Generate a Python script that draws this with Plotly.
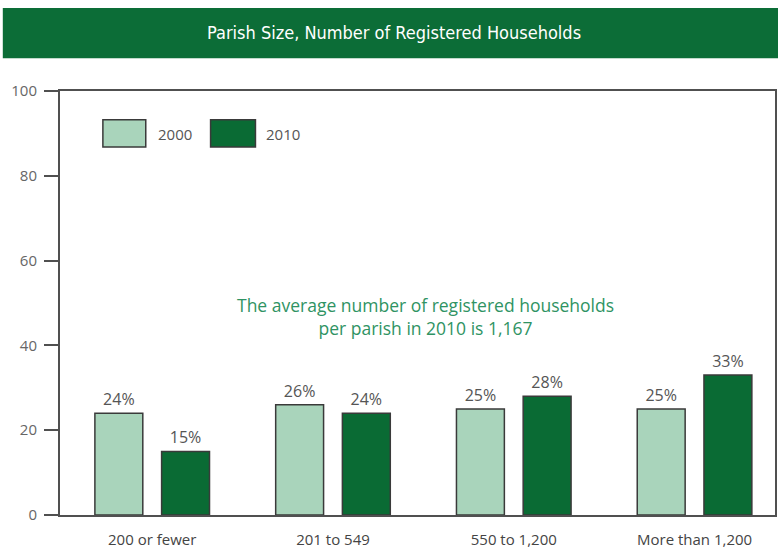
import plotly.graph_objects as go

categories = ["200 or fewer", "201 to 549", "550 to 1,200", "More than 1,200"]
series_names = ["2000", "2010"]
values_2000 = [24, 26, 25, 25]
values_2010 = [15, 24, 28, 33]
y_ticks = [0, 20, 40, 60, 80, 100]

light = "#a9d4bb"
dark = "#0a6b34"
outline = "#3a3a3a"
axis_col = "#505050"
txt_col = "#555555"

fig = go.Figure()
for name, vals, col, off in [(series_names[0], values_2000, light, -0.317),
                             (series_names[1], values_2010, dark, 0.052)]:
    fig.add_trace(go.Bar(
        x=categories, y=vals, name=name,
        marker=dict(color=col, line=dict(color=outline, width=1.5)),
        width=0.265, offset=off,
        text=[f"{v}%" for v in vals], textposition="outside",
        textfont=dict(size=16, color=txt_col, family="Open Sans"),
        cliponaxis=False, showlegend=False,
    ))

shapes = [
    # title band
    dict(type="rect", xref="paper", yref="paper", x0=-0.080, x1=1.005, y0=1.077, y1=1.196,
         fillcolor="#0c6d37", line=dict(width=0), layer="above"),
    # legend swatches
    dict(type="rect", xref="paper", yref="y", x0=(103 - 60) / 717, x1=(146 - 60) / 717,
         y0=86.8, y1=93.2, fillcolor=light, line=dict(color=outline, width=1.5)),
    dict(type="rect", xref="paper", yref="y", x0=(211 - 60) / 717, x1=(256 - 60) / 717,
         y0=86.8, y1=93.2, fillcolor=dark, line=dict(color=outline, width=1.5)),
]

annotations = [
    dict(text="Parish Size, Number of Registered Households", xref="paper", yref="paper",
         x=(395 - 60) / 717, y=1.137, showarrow=False, xanchor="center", yanchor="middle",
         font=dict(size=18, color="white",
                   family="DejaVu Sans Condensed, Roboto, sans-serif")),
    dict(text=series_names[0], xref="paper", yref="y", x=(156 - 60) / 717, y=89.8,
         showarrow=False, xanchor="left", yanchor="middle",
         font=dict(size=15, color=txt_col, family="Open Sans")),
    dict(text=series_names[1], xref="paper", yref="y", x=(265 - 60) / 717, y=89.8,
         showarrow=False, xanchor="left", yanchor="middle",
         font=dict(size=15, color=txt_col, family="Open Sans")),
    dict(text="The average number of registered households<br>per parish in 2010 is 1,167",
         xref="paper", yref="y", x=(427 - 60) / 717, y=46.9, showarrow=False,
         xanchor="center", yanchor="middle", align="center",
         font=dict(size=17.5, color="#2f9363", family="Open Sans")),
]

fig.update_layout(
    width=778, height=550,
    margin=dict(l=60, r=1, t=91, b=35),
    paper_bgcolor="white", plot_bgcolor="white",
    shapes=shapes, annotations=annotations,
    showlegend=False,
    xaxis=dict(range=[-0.51, 3.445], showgrid=False, zeroline=False,
               showline=True, linecolor=axis_col, linewidth=2, mirror=True,
               ticks="", tickfont=dict(size=15, color="#444", family="Open Sans"),
               ticklabelstandoff=10),
    yaxis=dict(range=[0, 100], tickvals=y_ticks, showgrid=False, zeroline=False,
               showline=True, linecolor=axis_col, linewidth=2, mirror=True,
               ticks="outside", ticklen=14, tickwidth=2, tickcolor=axis_col,
               tickfont=dict(size=15, color="#666", family="Open Sans"),
               ticklabelstandoff=4),
)

fig.write_html("out.html")
